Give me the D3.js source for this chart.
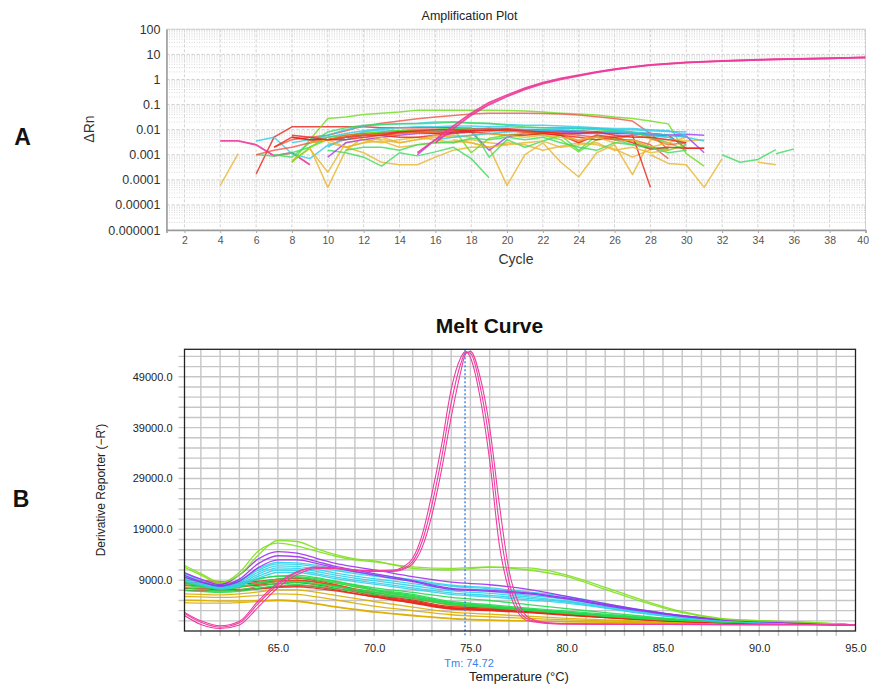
<!DOCTYPE html>
<html>
<head>
<meta charset="utf-8">
<script src="https://cdn.jsdelivr.net/npm/d3@7"></script>
<style>
  body { margin: 0; background: #fff; }
  svg { display: block; font-family: Arial, "Liberation Sans", sans-serif; }
</style>
</head>
<body>
<svg id="chart" width="869" height="684"></svg>
<script>
// ---------- Amplification plot data (ΔRn per cycle, one run per row) ----------
const ampYTicks = [100, 10, 1, 0.1, 0.01, 0.001, 0.0001, 0.00001, 0.000001];
const ampYTickLabels = ["100", "10", "1", "0.1", "0.01", "0.001", "0.0001", "0.00001", "0.000001"];
const ampXTicks = [2, 4, 6, 8, 10, 12, 14, 16, 18, 20, 22, 24, 26, 28, 30, 32, 34, 36, 38, 40];

// first cycle of each trace
const ampStart = [4, 4, 6, 6, 8, 7, 8, 9, 10, 10, 17, 28, 32, 35, 34, 10, 15, 8, 9, 10, 7, 6, 8, 8, 7, 6, 9, 9, 11, 11, 16, 8, 15, 16];
// dye/well group of each trace
const ampGroup = ["magenta", "yellow", "red", "cyan", "lime", "salmon", "yellow", "yellow", "yellow", "green",
  "yellow", "yellow", "green", "green", "yellow", "purple", "purple", "cyan", "cyan", "cyan",
  "green", "green", "lime", "red", "red", "salmon", "orange", "yellow", "yellow", "green",
  "cyan", "red", "magenta", "magenta"];
const ampRn = [
  [0.0036, 0.0036, 0.0025, 0.0009, 0.0012, 0.0004],
  [0.00006, 0.0011],
  [0.00017, 0.005, 0.013, 0.013, 0.013, 0.013, 0.013, 0.012, 0.012, 0.012, 0.012, 0.012, 0.011, 0.011, 0.011, 0.010, 0.010, 0.009, 0.009, 0.008, 0.008, 0.007, 0.007, 0.006, 0.0018, 0.0018],
  [0.0035, 0.005, 0.0011, 0.0007, 0.0024, 0.004, 0.006, 0.008, 0.009, 0.010, 0.010, 0.011, 0.010, 0.011, 0.009, 0.010, 0.009, 0.009, 0.008, 0.008, 0.009, 0.007, 0.006, 0.005],
  [0.0005, 0.004, 0.028, 0.032, 0.04, 0.045, 0.05, 0.06, 0.06, 0.06, 0.06, 0.06, 0.058, 0.055, 0.05, 0.045, 0.042, 0.038, 0.032, 0.028, 0.022, 0.017, 0.0011, 0.00035],
  [0.002, 0.004, 0.005, 0.006, 0.009, 0.014, 0.018, 0.022, 0.027, 0.032, 0.037, 0.042, 0.045, 0.045, 0.045, 0.044, 0.042, 0.038, 0.033, 0.028, 0.022, 0.007, 0.0016],
  [0.0006, 0.0017, 0.0002, 0.003, 0.004, 0.003, 0.004, 0.005, 0.004, 0.003, 0.004, 0.003, 0.0025],
  [0.002, 0.00005, 0.0015, 0.005, 0.004, 0.003, 0.004, 0.005, 0.006, 0.005],
  [0.003, 0.002, 0.0012, 0.0005, 0.0004, 0.0004, 0.0008, 0.0015, 0.002, 0.002, 0.003, 0.0025, 0.0015, 0.0022, 0.003, 0.0025, 0.0017, 0.0008, 0.0016, 0.002],
  [0.0015, 0.0012, 0.0008, 0.00035, 0.0012, 0.0009, 0.0013, 0.002, 0.0007, 0.00012],
  [0.004, 0.003, 0.002, 0.00006, 0.001, 0.003, 0.0005, 0.00013, 0.0012, 0.0025, 0.00016, 0.004, 0.004, 0.0035, 0.004],
  [0.001, 0.00045, 0.0004, 0.00005, 0.0007],
  [0.001, 0.0005, 0.00065, 0.0016],
  [0.0011, 0.0017],
  [0.0005, 0.0004],
  [0.0008, 0.003, 0.004, 0.005, 0.006, 0.007, 0.007, 0.008, 0.008, 0.0015, 0.005, 0.007, 0.008, 0.008, 0.007, 0.007, 0.007, 0.007, 0.006, 0.006, 0.0055, 0.0012],
  [0.001, 0.004, 0.008, 0.009, 0.01, 0.01, 0.009, 0.009, 0.009, 0.008, 0.008, 0.007, 0.007, 0.007, 0.006, 0.0065, 0.006],
  [0.003, 0.004, 0.006, 0.01, 0.014, 0.016, 0.017, 0.018, 0.02, 0.02, 0.018, 0.017, 0.016, 0.015, 0.015, 0.014, 0.013, 0.012, 0.011, 0.011, 0.01, 0.009, 0.006],
  [0.004, 0.005, 0.007, 0.009, 0.011, 0.012, 0.013, 0.013, 0.014, 0.014, 0.013, 0.013, 0.012, 0.012, 0.012, 0.011, 0.011, 0.01, 0.01, 0.009, 0.0085, 0.008],
  [0.002, 0.005, 0.008, 0.01, 0.009, 0.008, 0.009, 0.01, 0.01, 0.011, 0.01, 0.009, 0.009, 0.01, 0.009, 0.008, 0.008, 0.007, 0.006, 0.005, 0.0025],
  [0.001, 0.0008, 0.003, 0.008, 0.012, 0.015, 0.016, 0.017, 0.017, 0.018, 0.02, 0.019, 0.018, 0.015, 0.013, 0.012, 0.012, 0.011, 0.01, 0.009, 0.008, 0.005, 0.003, 0.0015],
  [0.001, 0.0009, 0.0012, 0.002, 0.005, 0.006, 0.007, 0.008, 0.009, 0.01, 0.01, 0.011, 0.012, 0.0008, 0.004, 0.002, 0.0035, 0.006, 0.0015, 0.006, 0.004, 0.0025, 0.0018, 0.0017],
  [0.0005, 0.002, 0.004, 0.005, 0.007, 0.008, 0.009, 0.01, 0.01, 0.011, 0.0012, 0.0045, 0.006, 0.007, 0.006, 0.004, 0.0013, 0.004, 0.0045, 0.0035, 0.002, 0.0015, 0.0025],
  [0.005, 0.004, 0.004, 0.005, 0.006, 0.007, 0.008, 0.008, 0.007, 0.008, 0.009, 0.01, 0.009, 0.008, 0.007, 0.006, 0.003, 0.006, 0.005, 0.006, 0.00005],
  [0.002, 0.005, 0.004, 0.004, 0.005, 0.006, 0.006, 0.005, 0.005, 0.006, 0.007, 0.008, 0.007, 0.006, 0.006, 0.007, 0.006, 0.005, 0.004, 0.005, 0.003, 0.0017, 0.002, 0.0018, 0.0018],
  [0.001, 0.0015, 0.002, 0.003, 0.004, 0.005, 0.006, 0.006, 0.007, 0.008, 0.008, 0.009, 0.01, 0.011, 0.009, 0.008, 0.008, 0.007, 0.006, 0.005, 0.004, 0.004, 0.0025, 0.0007],
  [0.003, 0.004, 0.006, 0.007, 0.006, 0.007, 0.008, 0.008, 0.009, 0.01, 0.009, 0.009, 0.008, 0.008, 0.007, 0.0035, 0.006, 0.004, 0.006, 0.0045, 0.0025, 0.003],
  [0.003, 0.004, 0.002, 0.003, 0.005, 0.003, 0.004, 0.006, 0.005, 0.006, 0.007, 0.006, 0.005, 0.006, 0.005, 0.004, 0.005, 0.003, 0.004, 0.002, 0.003, 0.005],
  [0.002, 0.003, 0.0035, 0.002, 0.0025, 0.003, 0.0035, 0.003, 0.002, 0.0025, 0.003, 0.0035, 0.002, 0.0025, 0.003, 0.0015, 0.002, 0.0012, 0.0015],
  [0.0015, 0.002, 0.002, 0.0015, 0.0025, 0.003, 0.003, 0.0045, 0.004, 0.005, 0.004, 0.005, 0.003, 0.002, 0.0015, 0.003, 0.0025, 0.002, 0.0012, 0.0015],
  [0.004, 0.005, 0.006, 0.007, 0.008, 0.009, 0.01, 0.011, 0.012, 0.011, 0.01, 0.008, 0.007, 0.006, 0.005, 0.0035],
  [0.006, 0.005, 0.004, 0.004, 0.005, 0.006, 0.008, 0.009, 0.01, 0.01, 0.009, 0.009, 0.01, 0.009, 0.008, 0.007, 0.007, 0.008, 0.006, 0.005, 0.005, 0.004, 0.003],
  [0.0012, 0.004, 0.014, 0.045, 0.12, 0.24, 0.45, 0.75, 1.1, 1.5, 2.0, 2.6, 3.2, 3.8, 4.3, 4.8, 5.1, 5.5, 5.8, 6.1, 6.4, 6.6, 6.8, 7.0, 7.3, 7.6],
  [0.003, 0.011, 0.038, 0.1, 0.21, 0.4, 0.68, 1.0, 1.4, 1.9, 2.5, 3.1, 3.7, 4.2, 4.7, 5.0, 5.4, 5.7, 6.0, 6.3, 6.5, 6.7, 6.9, 7.2, 7.5]
];

// ---------- Melt curve data (derivative reporter vs temperature) ----------
const meltTemps = [60, 61, 62, 63, 64, 65, 66, 67, 68, 69, 70, 72, 74, 76, 78, 80, 82, 84, 86, 88, 90, 92, 95];
const meltGroup = ["yellow", "yellow", "yellow", "yellow", "orange",
  "red", "red", "red", "red", "redorange", "red",
  "green", "green", "green", "green", "green", "green",
  "cyan", "cyan", "cyan", "cyan", "cyan", "cyan",
  "purple", "purple", "purple", "lime", "lime"];
const meltValues = [
  [5800, 5700, 5600, 5700, 6000, 6300, 6200, 5700, 5100, 4500, 3900, 3000, 2200, 1800, 1500, 1200, 1000, 850, 700, 580, 480, 380, 200],
  [5100, 5000, 4900, 4900, 5000, 5100, 4900, 4400, 3800, 3300, 2800, 2100, 1500, 1200, 1000, 850, 750, 650, 560, 480, 410, 340, 200],
  [4600, 4500, 4500, 4600, 4800, 5000, 4800, 4300, 3700, 3200, 2700, 2000, 1400, 1100, 950, 820, 720, 620, 540, 470, 400, 330, 200],
  [6300, 6200, 6100, 6300, 6700, 7100, 7100, 6600, 6000, 5400, 4800, 3700, 2700, 2300, 1900, 1500, 1200, 950, 760, 620, 500, 390, 200],
  [7700, 7500, 7300, 7600, 8400, 9000, 9400, 9100, 8500, 7800, 7000, 5700, 4000, 3500, 2900, 2300, 1700, 1250, 900, 680, 530, 400, 200],
  [9000, 8900, 8700, 8600, 8800, 9200, 9400, 8900, 8100, 7200, 6300, 5100, 3800, 3500, 3100, 2500, 1900, 1400, 950, 700, 550, 400, 200],
  [8600, 8500, 8400, 8300, 8500, 8800, 9000, 8600, 7800, 7000, 6100, 4900, 3600, 3300, 2900, 2300, 1800, 1300, 900, 680, 530, 400, 200],
  [8000, 7900, 7800, 7800, 8000, 8300, 8500, 8100, 7400, 6700, 5900, 4700, 3500, 3200, 2800, 2200, 1700, 1250, 880, 660, 520, 390, 200],
  [7400, 7300, 7200, 7200, 7400, 7700, 8000, 7700, 7100, 6400, 5700, 4500, 3300, 3000, 2600, 2100, 1650, 1200, 850, 640, 510, 380, 200],
  [8300, 8200, 8000, 7900, 8200, 8700, 8900, 8600, 8000, 7300, 6600, 5400, 4200, 3700, 3200, 2600, 2000, 1450, 1000, 720, 560, 410, 200],
  [7000, 6900, 6900, 7000, 7300, 7600, 7700, 7400, 6900, 6300, 5700, 4600, 3400, 3100, 2700, 2200, 1700, 1250, 880, 650, 510, 380, 200],
  [9700, 8500, 7700, 8300, 9300, 9800, 10000, 9500, 8800, 8000, 7200, 6200, 4800, 4200, 3500, 2900, 2300, 1700, 1200, 900, 700, 500, 200],
  [8500, 7800, 7200, 7600, 8500, 9200, 9500, 9000, 8400, 7700, 7000, 6000, 4600, 4000, 3300, 2700, 2100, 1600, 1150, 850, 650, 480, 200],
  [7600, 7200, 6900, 7100, 7800, 8300, 8600, 8200, 7700, 7100, 6500, 5600, 4400, 3800, 3200, 2600, 2000, 1500, 1100, 820, 630, 470, 200],
  [7000, 6800, 6600, 6800, 7400, 7900, 8100, 7800, 7300, 6800, 6200, 5300, 4200, 3600, 3000, 2400, 1900, 1400, 1050, 800, 610, 460, 200],
  [8200, 7600, 7400, 8000, 9200, 9800, 9700, 9300, 8700, 8100, 7500, 6600, 5600, 5000, 4200, 3400, 2600, 1900, 1300, 950, 720, 520, 200],
  [8800, 8000, 7400, 7700, 8400, 8700, 8700, 8300, 7800, 7200, 6700, 5800, 4500, 3900, 3100, 2500, 2000, 1500, 1100, 800, 620, 460, 200],
  [10200, 8800, 7800, 8800, 11000, 12200, 12100, 11600, 10900, 10300, 9800, 8800, 7800, 7300, 6400, 5500, 4200, 3000, 1900, 1200, 850, 600, 200],
  [9800, 8600, 7600, 8500, 10600, 11800, 11700, 11100, 10400, 9800, 9300, 8300, 7300, 6800, 6000, 5200, 4000, 2800, 1800, 1150, 800, 580, 200],
  [9500, 8400, 7500, 8200, 10200, 11400, 11300, 10700, 10000, 9400, 8900, 7900, 6900, 6400, 5700, 4900, 3800, 2700, 1700, 1100, 780, 560, 200],
  [9200, 8200, 7400, 8000, 9800, 11000, 10900, 10300, 9600, 9000, 8500, 7500, 6500, 6000, 5400, 4700, 3600, 2500, 1600, 1050, 750, 550, 200],
  [9000, 8000, 7300, 7800, 9400, 10500, 10500, 10000, 9300, 8700, 8200, 7200, 6200, 5700, 5100, 4500, 3500, 2400, 1550, 1000, 720, 540, 200],
  [10500, 9100, 8000, 9000, 11300, 12500, 12400, 11900, 11200, 10600, 10100, 9100, 8000, 7500, 6700, 5800, 4400, 3100, 2000, 1250, 880, 620, 200],
  [9800, 8600, 7900, 8800, 11500, 13000, 13000, 12300, 11400, 10700, 10000, 8700, 7200, 6800, 6300, 5300, 4000, 2900, 1900, 1200, 850, 600, 200],
  [10200, 8700, 7800, 9200, 12300, 13800, 13600, 12700, 11700, 11000, 10300, 8900, 7400, 7000, 6500, 5500, 4200, 3000, 2000, 1300, 900, 600, 200],
  [10700, 9200, 8100, 10000, 13200, 14600, 14300, 13300, 12300, 11600, 11000, 9700, 8600, 8100, 7200, 5800, 4400, 3100, 2000, 1300, 900, 600, 200],
  [12200, 10300, 8600, 10000, 14000, 16800, 16600, 15200, 14000, 13200, 12800, 11300, 11000, 11500, 11400, 10000, 7600, 5000, 2800, 1500, 1050, 800, 200],
  [11800, 10000, 8400, 10500, 14800, 16300, 15700, 14700, 13700, 13000, 12600, 11600, 11300, 11600, 11000, 9700, 7200, 4700, 2600, 1400, 1000, 800, 200]
];

// specific-product replicates with the melting peak
const peakTemps = [60, 61, 62, 63, 64, 65, 66, 67, 68, 69, 70, 71, 71.5, 72, 72.5, 73, 73.5, 74, 74.5, 74.75, 75, 75.5, 76, 76.5, 77, 77.5, 78, 79, 80, 82, 85, 90, 95];
const peakValues = [
  [3000, 1000, 0, 900, 5000, 8500, 10700, 11600, 11400, 11000, 10900, 11000, 11600, 13300, 18000, 26000, 35500, 46500, 52800, 54000, 52800, 45000, 32500, 16000, 7000, 2500, 1000, 500, 400, 350, 300, 250, 200],
  [2400, 300, -500, 200, 3800, 7500, 10100, 11300, 11300, 10900, 10700, 10700, 11100, 12200, 15500, 21800, 30700, 41000, 50000, 53500, 54000, 49000, 39000, 24000, 11000, 4500, 1700, 600, 420, 350, 300, 250, 200],
  [2800, 700, -250, 600, 4500, 8100, 10500, 11500, 11350, 10950, 10800, 10850, 11300, 12700, 16700, 23800, 33000, 43800, 51600, 53800, 53600, 47200, 36000, 20000, 8800, 3300, 1300, 540, 410, 350, 300, 250, 200]
];

const meltYTicks = [9000, 19000, 29000, 39000, 49000];
const meltXTicks = [65, 70, 75, 80, 85, 90, 95];
const tmValue = 74.72;

// ---------- styles ----------
const ampPalette = {
  lime: "#6fdc1c", green: "#3ddc5c", red: "#e8231a", salmon: "#ef5646", orange: "#f06a1e",
  yellow: "#e9b52c", cyan: "#2fcbe6", purple: "#a23cf0", magenta: "#ec3a98"
};
const meltPalette = {
  lime: "#7ee01e", green: "#22dc4e", red: "#e8261a", redorange: "#ee4a1c", orange: "#f0a228",
  yellow: "#dcae00", cyan: "#30d2ea", purple: "#9c30ef", pink: "#ee3ea2"
};

const svg = d3.select("#chart");

// ================= Panel A: amplification plot =================
const xA = d3.scaleLinear().domain([1, 40]).range([166.5, 865.5]);
const yA = d3.scaleLog().domain([1e-6, 100]).range([230, 29.3]);

const gA = svg.append("g");

// minor log grid lines (2..9 in each decade)
const minorVals = [];
for (let e = -6; e < 2; e++) for (let k = 2; k <= 9; k++) minorVals.push(k * Math.pow(10, e));
gA.append("g").selectAll("line").data(minorVals).join("line")
  .attr("x1", xA(1)).attr("x2", xA(40))
  .attr("y1", d => yA(d)).attr("y2", d => yA(d))
  .attr("stroke", "#d9d9d9").attr("stroke-width", 1).attr("stroke-dasharray", "1,1.5");
// decade grid lines
gA.append("g").selectAll("line").data(ampYTicks).join("line")
  .attr("x1", xA(1)).attr("x2", xA(40))
  .attr("y1", d => yA(d)).attr("y2", d => yA(d))
  .attr("stroke", "#cfcfcf").attr("stroke-width", 1).attr("stroke-dasharray", "3,2");
// cycle grid lines
gA.append("g").selectAll("line").data(ampXTicks).join("line")
  .attr("x1", d => xA(d)).attr("x2", d => xA(d))
  .attr("y1", yA(100)).attr("y2", yA(1e-6))
  .attr("stroke", "#d4d4d4").attr("stroke-width", 1).attr("stroke-dasharray", "3,2");
// frame
gA.append("rect").attr("x", xA(1)).attr("y", yA(100))
  .attr("width", xA(40) - xA(1)).attr("height", yA(1e-6) - yA(100))
  .attr("fill", "none").attr("stroke", "#d0d0d0");

// traces
svg.append("clipPath").attr("id", "clipA").append("rect")
  .attr("x", xA(1)).attr("y", yA(100)).attr("width", xA(40) - xA(1)).attr("height", yA(1e-6) - yA(100));
const lineA = d3.line().x(d => xA(d[0])).y(d => yA(d[1]));
const ampTraces = ampRn.map((vals, i) => ({
  group: ampGroup[i],
  pts: vals.map((v, j) => [ampStart[i] + j, v])
}));
gA.append("g").attr("clip-path", "url(#clipA)")
  .selectAll("path").data(ampTraces).join("path")
  .attr("d", d => lineA(d.pts))
  .attr("fill", "none")
  .attr("stroke", d => ampPalette[d.group])
  .attr("stroke-width", d => d.group === "magenta" ? 1.8 : 1.5)
  .attr("stroke-opacity", d => d.group === "magenta" ? 0.9 : 0.8)
  .attr("stroke-linejoin", "round");

// axes
const axAy = gA.append("g").attr("transform", `translate(${xA(1)},0)`)
  .call(d3.axisLeft(yA).tickValues(ampYTicks).tickFormat((d, i) => ampYTickLabels[i]).tickSize(0).tickPadding(6));
axAy.select(".domain").attr("stroke", "#9a9a9a").attr("stroke-width", 1.5);
axAy.selectAll("text").attr("font-size", 12.5).attr("fill", "#333");

const axAx = gA.append("g").attr("transform", `translate(0,${yA(1e-6)})`)
  .call(d3.axisBottom(xA).tickValues(ampXTicks).tickSize(3).tickPadding(4));
axAx.select(".domain").attr("stroke", "#9a9a9a").attr("stroke-width", 1.5);
axAx.selectAll(".tick line").attr("stroke", "#aaa");
axAx.selectAll("text").attr("font-size", 10.5).attr("fill", "#555");
// keep the last cycle label inside the page edge
axAx.selectAll(".tick").filter(d => d === 40).select("text").attr("text-anchor", "end").attr("dx", 3);

gA.append("text").attr("x", 469.5).attr("y", 20).attr("text-anchor", "middle")
  .attr("font-size", 12.5).attr("fill", "#222").text("Amplification Plot");
gA.append("text").attr("x", 516).attr("y", 264).attr("text-anchor", "middle")
  .attr("font-size", 14).attr("fill", "#333").text("Cycle");
gA.append("text").attr("transform", "translate(94,129) rotate(-90)").attr("text-anchor", "middle")
  .attr("font-size", 14).attr("fill", "#333").text("ΔRn");

// ================= Panel B: melt curve =================
const xB = d3.scaleLinear().domain([60.15, 95.0]).range([184.5, 855.5]);
const yB = d3.scaleLinear().domain([-1000, 54400]).range([631, 349.3]);
const gB = svg.append("g");

const hGrid = d3.range(1000, 54000, 2000);
const vGrid = d3.range(61, 95, 1);
gB.append("g").selectAll("line").data(hGrid).join("line")
  .attr("x1", xB.range()[0] - 6).attr("x2", xB.range()[1])
  .attr("y1", d => yB(d)).attr("y2", d => yB(d))
  .attr("stroke", "#c6c6c6").attr("stroke-width", 1.4);
gB.append("g").selectAll("line").data(vGrid).join("line")
  .attr("x1", d => xB(d)).attr("x2", d => xB(d))
  .attr("y1", yB.range()[1]).attr("y2", yB.range()[0] + 5)
  .attr("stroke", "#c6c6c6").attr("stroke-width", 1.4);

svg.append("clipPath").attr("id", "clipB").append("rect")
  .attr("x", xB.range()[0]).attr("y", yB.range()[1])
  .attr("width", xB.range()[1] - xB.range()[0]).attr("height", yB.range()[0] - yB.range()[1]);

const lineB = d3.line().x(d => xB(d[0])).y(d => yB(d[1])).curve(d3.curveMonotoneX);
const meltTraces = meltValues.map((vals, i) => ({
  group: meltGroup[i], pts: vals.map((v, j) => [meltTemps[j], v])
}));
const peakTraces = peakValues.map(vals => ({
  group: "pink", pts: vals.map((v, j) => [peakTemps[j], v])
}));
const curvesB = gB.append("g").attr("clip-path", "url(#clipB)");
curvesB.selectAll("path.bg").data(meltTraces).join("path").attr("class", "bg")
  .attr("d", d => lineB(d.pts)).attr("fill", "none")
  .attr("stroke", d => meltPalette[d.group]).attr("stroke-width", 1.3).attr("stroke-opacity", 0.9);
curvesB.selectAll("path.pk").data(peakTraces).join("path").attr("class", "pk")
  .attr("d", d => lineB(d.pts)).attr("fill", "none")
  .attr("stroke", meltPalette.pink).attr("stroke-width", 1.1);

// Tm marker
gB.append("line").attr("x1", xB(tmValue)).attr("x2", xB(tmValue))
  .attr("y1", yB.range()[1]).attr("y2", yB.range()[0] + 6)
  .attr("stroke", "#3b82e8").attr("stroke-width", 1.4).attr("stroke-dasharray", "2,2");

// frame
gB.append("rect").attr("x", xB.range()[0]).attr("y", yB.range()[1])
  .attr("width", xB.range()[1] - xB.range()[0]).attr("height", yB.range()[0] - yB.range()[1])
  .attr("fill", "none").attr("stroke", "#222").attr("stroke-width", 1.3);

// axis labels
const fmt1 = d3.format(".1f");
const axBy = gB.append("g").attr("transform", `translate(${xB.range()[0]},0)`)
  .call(d3.axisLeft(yB).tickValues(meltYTicks).tickFormat(fmt1).tickSize(0).tickPadding(12));
axBy.select(".domain").remove();
axBy.selectAll("text").attr("font-size", 11).attr("fill", "#222");

const axBx = gB.append("g").attr("transform", `translate(0,${yB.range()[0]})`)
  .call(d3.axisBottom(xB).tickValues(meltXTicks).tickFormat(fmt1).tickSize(0).tickPadding(13));
axBx.select(".domain").remove();
axBx.selectAll("text").attr("font-size", 11).attr("fill", "#222");

gB.append("text").attr("x", 489.5).attr("y", 333).attr("text-anchor", "middle")
  .attr("font-size", 21).attr("font-weight", "bold").attr("fill", "#111").text("Melt Curve");
gB.append("text").attr("transform", "translate(105,490) rotate(-90)").attr("text-anchor", "middle")
  .attr("font-size", 12).attr("fill", "#222").text("Derivative Reporter (−R′)");
gB.append("text").attr("x", 519).attr("y", 681).attr("text-anchor", "middle")
  .attr("font-size", 13).attr("fill", "#222").text("Temperature (°C)");
gB.append("text").attr("x", xB(tmValue) + 4).attr("y", 667).attr("text-anchor", "middle")
  .attr("font-size", 11).attr("fill", "#3b82e8").text("Tm: " + tmValue.toFixed(2));

// panel letters
svg.append("text").attr("x", 22.5).attr("y", 145).attr("text-anchor", "middle")
  .attr("font-size", 23).attr("font-weight", "bold").attr("fill", "#111").text("A");
svg.append("text").attr("x", 21).attr("y", 507).attr("text-anchor", "middle")
  .attr("font-size", 23).attr("font-weight", "bold").attr("fill", "#111").text("B");
</script>
</body>
</html>
